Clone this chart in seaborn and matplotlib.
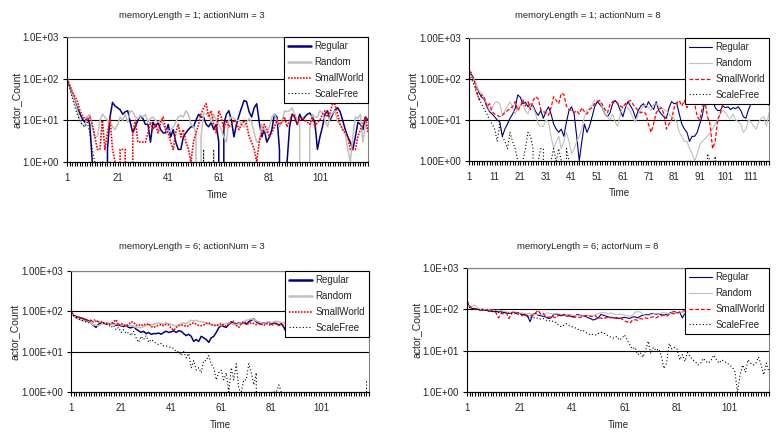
import numpy as np
import pandas as pd
import matplotlib
matplotlib.use("Agg")
import matplotlib.pyplot as plt
import seaborn as sns
from matplotlib.ticker import FixedLocator, MultipleLocator, FuncFormatter, NullLocator

networks = ["Regular", "Random", "SmallWorld", "ScaleFree"]

# memoryLength = 1; actionNum = 3
p1_regular = [100, 70, 45, 30, 20, 15, 11, 9, 12, 8,
              1, 0, 0, 0, 0, 0, 2, 12, 27, 22,
              20, 18, 14, 16, 17, 9, 5, 7, 10, 13,
              11, 8, 8, 3, 9, 7, 9, 6, 5, 5,
              8, 4, 6, 3, 2, 2, 4, 5, 6, 7,
              7, 10, 14, 12, 12, 8, 7, 9, 6, 8,
              3, 0, 8, 14, 17, 10, 4, 8, 13, 20,
              30, 28, 16, 12, 20, 25, 9, 4, 6, 3,
              4, 6, 14, 12, 2, 0, 0, 1, 7, 14,
              12, 8, 14, 10, 12, 14, 15, 12, 9, 2,
              4, 7, 14, 17, 10, 14, 18, 20, 16, 10,
              6, 4, 3, 2, 4, 9, 8, 6, 12, 10]
p1_random = [100, 75, 45, 28, 18, 10, 8, 7, 12, 14,
             7, 4, 4, 10, 14, 12, 10, 9, 7, 6,
             8, 12, 10, 14, 9, 17, 16, 12, 11, 13,
             12, 14, 9, 11, 12, 10, 9, 10, 8, 6,
             5, 6, 7, 9, 12, 13, 12, 17, 14, 8,
             7, 5, 0, 4, 15, 14, 15, 9, 14, 10,
             8, 6, 4, 3, 10, 12, 11, 10, 10, 8,
             7, 9, 11, 9, 5, 3, 3, 8, 6, 5,
             7, 12, 14, 10, 7, 9, 17, 16, 17, 20,
             14, 10, 7, 0, 0, 0, 6, 14, 12, 12,
             17, 15, 10, 7, 12, 15, 17, 9, 8, 6,
             5, 2, 1, 4, 12, 11, 14, 3, 8, 6]
p1_smallworld = [100, 70, 50, 38, 30, 18, 13, 11, 10, 12,
                 8, 4, 2, 2, 10, 2, 5, 11, 2, 1,
                 0, 2, 2, 2, 0, 0, 5, 10, 3, 3,
                 3, 3, 5, 9, 6, 8, 5, 9, 12, 6,
                 5, 3, 2, 5, 8, 4, 6, 3, 2, 1,
                 3, 5, 8, 14, 20, 25, 12, 17, 8, 5,
                 17, 12, 6, 10, 7, 8, 10, 9, 6, 8,
                 10, 8, 4, 3, 2, 1, 3, 5, 8, 6,
                 4, 5, 7, 10, 8, 9, 12, 7, 10, 14,
                 13, 8, 11, 12, 10, 9, 8, 12, 7, 9,
                 10, 14, 17, 12, 15, 25, 24, 14, 8, 6,
                 5, 4, 2, 2, 2, 4, 6, 8, 12, 5]
p1_scalefree = [100, 60, 35, 22, 14, 10, 8, 7, 9, 5,
                2, 1, 0, 0, 1, 1, 0, 1, 0, 0,
                0, 0, 0, 0, 0, 0, 0, 0, 0, 0,
                0, 0, 0, 0, 0, 0, 0, 0, 0, 0,
                0, 0, 0, 0, 0, 0, 0, 0, 0, 0,
                0, 0, 0, 0, 2, 0, 1, 0, 2, 0,
                0, 0, 0, 0, 0, 0, 0, 0, 0, 0,
                0, 0, 0, 0, 0, 0, 0, 0, 0, 0,
                0, 0, 0, 0, 0, 0, 0, 0, 0, 0,
                0, 0, 0, 0, 0, 0, 0, 0, 0, 0,
                0, 0, 0, 0, 0, 0, 0, 0, 0, 0,
                0, 0, 0, 0, 0, 0, 0, 0, 0, 0]

# memoryLength = 1; actionNum = 8
p2_regular = [140, 128, 96, 66, 45, 36, 31, 21, 16, 14,
              12, 10, 9, 4, 6, 8, 11, 14, 19, 41,
              36, 25, 27, 21, 25, 22, 16, 13, 17, 11,
              16, 21, 14, 8, 6, 5, 6, 4, 9, 17,
              21, 14, 4, 1, 3, 8, 5, 7, 12, 21,
              28, 24, 20, 14, 12, 15, 25, 30, 25, 17,
              12, 20, 28, 22, 17, 11, 17, 22, 25, 20,
              28, 22, 18, 28, 17, 14, 12, 11, 20, 28,
              25, 26, 14, 8, 6, 5, 3, 4, 4, 5,
              8, 13, 30, 25, 45, 34, 20, 17, 17, 22,
              20, 21, 18, 20, 19, 21, 17, 12, 11, 18,
              25, 35, 30, 35, 40, 30, 35, 40]
p2_random = [128, 115, 96, 66, 50, 45, 31, 25, 17, 19,
             26, 28, 25, 13, 17, 22, 28, 20, 14, 21,
             22, 24, 17, 14, 25, 20, 14, 8, 7, 7,
             10, 9, 4, 2, 3, 4, 2, 3, 5, 3,
             1.5, 2, 3, 4, 6, 12, 17, 20, 23, 31,
             30, 28, 20, 14, 12, 10, 14, 9, 7, 14,
             22, 24, 19, 16, 11, 9, 14, 17, 22, 24,
             20, 17, 24, 25, 22, 20, 18, 17, 14, 12,
             11, 9, 5, 4, 3, 3, 2, 1.5, 1, 1.5,
             2.5, 3, 3.5, 4, 5, 6, 8, 10, 14, 17,
             15, 12, 11, 14, 10, 9, 8, 5, 6, 10,
             9, 7, 6, 9, 11, 12, 7, 15]
p2_smallworld = [160, 140, 90, 50, 31, 41, 35, 21, 25, 16,
                 14, 13, 12, 13, 15, 17, 19, 21, 28, 17,
                 21, 31, 22, 28, 18, 30, 37, 33, 18, 16,
                 15, 13, 20, 37, 30, 25, 45, 42, 22, 18,
                 17, 15, 17, 14, 20, 16, 14, 18, 20, 25,
                 28, 30, 24, 18, 15, 24, 28, 30, 25, 22,
                 20, 25, 28, 30, 24, 20, 17, 15, 16, 14,
                 8, 5, 8, 15, 18, 20, 14, 6, 8, 10,
                 20, 26, 30, 22, 30, 20, 25, 30, 25, 12,
                 10, 20, 30, 12, 8, 2, 3, 10, 15, 25,
                 30, 35, 28, 40, 32, 30, 38, 28, 30, 35,
                 30, 25, 32, 28, 35, 25, 30, 22]
p2_scalefree = [130, 100, 70, 45, 32, 24, 18, 14, 10, 8,
                6, 3, 8, 4, 3, 2, 5, 3, 2, 1,
                0, 1, 2, 5, 4, 2, 0, 1, 2, 2,
                0, 0, 1, 2, 1, 2, 1, 0, 2, 1,
                0, 0, 1, 0, 0, 0, 0, 0, 0, 0,
                0, 1, 0, 0, 0, 0, 0, 0, 0, 0,
                0, 0, 0, 0, 0, 0, 0, 0, 0, 0,
                0, 0, 0, 0, 0, 0, 0, 0, 0, 0,
                0, 0, 0, 0, 0, 0, 0, 0, 0, 0,
                0, 0, 0, 1.5, 1, 0, 1.3, 0, 0, 0,
                0, 0, 0, 0, 0, 0, 0, 0, 0, 0,
                0, 0, 0, 0, 0, 0, 0, 0]

# memoryLength = 6; actionNum = 3
p3_regular = [90, 80, 75, 70, 68, 65, 62, 58, 52, 45,
              40, 48, 50, 52, 48, 50, 47, 50, 45, 46,
              44, 42, 45, 40, 39, 42, 36, 33, 30, 32,
              28, 30, 27, 28, 28, 29, 27, 30, 32, 30,
              31, 33, 30, 33, 32, 28, 25, 27, 24, 18,
              20, 18, 24, 22, 20, 17, 22, 24, 30, 39,
              45, 42, 40, 47, 55, 50, 48, 52, 50, 53,
              48, 55, 60, 65, 55, 50, 48, 52, 50, 55,
              48, 52, 50, 45, 50, 40, 30, 33, 35, 40,
              42, 45, 40, 44, 47, 45, 42, 46, 44, 48,
              45, 42, 47, 50, 45, 43, 47, 45, 50, 48,
              44, 46, 48, 45, 50, 47, 44, 46, 49, 47]
p3_random = [88, 78, 70, 65, 60, 58, 55, 55, 52, 46,
             45, 44, 48, 52, 50, 50, 48, 47, 49, 48,
             46, 45, 47, 44, 45, 42, 40, 41, 39, 42,
             44, 46, 45, 48, 50, 52, 50, 48, 51, 50,
             46, 45, 44, 46, 50, 52, 49, 55, 60, 58,
             60, 56, 55, 54, 50, 48, 47, 46, 45, 44,
             46, 48, 50, 52, 50, 48, 46, 50, 52, 55,
             60, 62, 65, 63, 58, 55, 52, 50, 53, 55,
             52, 55, 57, 55, 53, 52, 50, 52, 54, 53,
             55, 52, 50, 53, 55, 52, 50, 54, 52, 51,
             53, 55, 52, 50, 52, 54, 51, 53, 55, 52,
             50, 52, 54, 51, 53, 52, 50, 53, 51, 52]
p3_smallworld = [110, 80, 70, 72, 70, 65, 60, 58, 60, 55,
                 57, 55, 56, 50, 52, 48, 50, 55, 62, 45,
                 50, 46, 44, 47, 55, 53, 45, 47, 44, 48,
                 46, 50, 42, 40, 43, 45, 47, 44, 48, 46,
                 38, 34, 40, 44, 46, 45, 42, 44, 50, 52,
                 48, 45, 44, 46, 50, 52, 47, 45, 44, 47,
                 50, 45, 43, 48, 52, 57, 45, 40, 50, 55,
                 50, 48, 52, 50, 47, 50, 48, 45, 50, 47,
                 45, 48, 50, 46, 48, 44, 39, 42, 45, 48,
                 50, 48, 46, 50, 52, 48, 45, 50, 48, 46,
                 48, 50, 47, 45, 49, 51, 48, 46, 50, 52,
                 48, 46, 49, 51, 47, 45, 48, 50, 47, 46]
p3_scalefree = [90, 80, 70, 65, 60, 58, 55, 52, 58, 62,
                60, 55, 50, 52, 48, 45, 40, 45, 35, 40,
                30, 35, 28, 30, 25, 32, 22, 17, 24, 20,
                25, 17, 20, 18, 16, 15, 16, 14, 14, 13,
                13, 12, 10, 10, 8, 10, 7, 9, 4, 6,
                3.5, 4, 3, 6, 6, 8, 5, 4, 2, 3,
                3.5, 2, 3, 1, 4, 2, 5, 1.2, 1, 2,
                2, 5, 3, 1.5, 3, 0, 0, 0, 0, 0,
                0, 1, 1, 1.5, 1, 0, 0, 0, 0, 0,
                0, 0, 0, 0, 0, 0, 0, 0, 0, 0,
                0, 0, 0, 0, 0, 0, 0, 0, 0, 0,
                0, 0, 0, 0, 0, 0, 0, 0, 1.8, 1.8]

# memoryLength = 6; actorNum = 8
p4_regular = [150, 115, 105, 105, 100, 98, 95, 95, 92, 90,
              88, 90, 86, 88, 84, 82, 80, 82, 85, 78,
              80, 76, 74, 72, 50, 75, 80, 72, 70, 68,
              65, 60, 62, 75, 78, 72, 70, 73, 68, 70,
              66, 68, 75, 72, 70, 68, 63, 60, 55, 58,
              62, 75, 72, 68, 65, 63, 62, 63, 60, 62,
              64, 62, 60, 65, 66, 62, 68, 72, 75, 73,
              78, 80, 76, 78, 74, 72, 76, 80, 85, 88,
              82, 86, 62, 80, 86, 80, 78, 82, 85, 80,
              83, 85, 80, 78, 82, 84, 80, 83, 86, 82,
              80, 84, 86, 82, 78, 81, 85, 83, 80, 84,
              86, 82, 80, 84, 85, 82]
p4_random = [130, 115, 120, 128, 110, 100, 102, 98, 100, 96,
             95, 94, 96, 92, 90, 86, 85, 84, 88, 82,
             80, 82, 79, 78, 80, 76, 75, 74, 76, 78,
             80, 82, 79, 77, 80, 76, 75, 74, 73, 76,
             72, 70, 71, 70, 68, 72, 70, 69, 70, 74,
             80, 82, 85, 80, 78, 82, 76, 74, 76, 75,
             72, 70, 68, 72, 85, 88, 86, 75, 72, 70,
             74, 78, 80, 76, 82, 85, 80, 78, 82, 84,
             80, 83, 85, 80, 82, 84, 86, 82, 80, 85,
             84, 82, 86, 88, 84, 82, 85, 87, 84, 82,
             86, 88, 85, 83, 86, 88, 84, 86, 88, 85,
             83, 86, 88, 85, 84, 87]
p4_smallworld = [165, 120, 100, 102, 98, 95, 96, 94, 100, 98,
                 85, 84, 62, 80, 78, 82, 60, 84, 86, 82,
                 84, 70, 72, 68, 74, 70, 80, 96, 78, 80,
                 66, 64, 68, 65, 62, 75, 72, 76, 74, 70,
                 65, 64, 66, 63, 68, 70, 72, 68, 66, 70,
                 60, 62, 58, 64, 60, 65, 62, 60, 64, 58,
                 52, 50, 46, 55, 56, 54, 60, 58, 62, 60,
                 64, 66, 62, 68, 70, 72, 68, 75, 80, 78,
                 82, 85, 90, 92, 100, 98, 95, 90, 88, 92,
                 95, 90, 88, 93, 96, 92, 90, 94, 96, 92,
                 90, 95, 98, 93, 90, 92, 96, 94, 90, 92,
                 95, 92, 88, 90, 94, 90]
p4_scalefree = [130, 110, 105, 100, 100, 98, 100, 95, 90, 92,
                88, 90, 85, 86, 84, 82, 80, 78, 80, 76,
                75, 74, 72, 66, 64, 65, 60, 62, 58, 60,
                55, 52, 54, 50, 48, 40, 38, 42, 45, 40,
                38, 36, 34, 30, 32, 28, 26, 24, 25, 24,
                26, 28, 27, 25, 22, 21, 20, 22, 18, 20,
                24, 18, 14, 11, 12, 8, 9, 7, 10, 17,
                8.5, 12, 10, 11, 7.5, 3.7, 5, 15, 11, 12,
                11, 6, 8, 5.5, 9, 7, 6, 5.4, 4.5, 5,
                6.5, 5.5, 5, 6, 7.8, 6, 5, 6, 5.5, 5,
                4.5, 4, 3.1, 1, 2.6, 4.5, 3, 6, 5, 4.5,
                5, 7, 4.5, 2.6, 5, 3]

titles = ["memoryLength = 1; actionNum = 3", "memoryLength = 1; actionNum = 8",
          "memoryLength = 6; actionNum = 3", "memoryLength = 6; actorNum = 8"]
x_label_steps = [20, 10, 20, 20]
y_formats = ["{:.1E}", "{:.2E}", "{:.2E}", "{:.1E}"]

sns.set_style("white")
plt.rcParams["font.family"] = ["Liberation Sans", "DejaVu Sans"]

colors = {"Regular": "#000080", "Random": "#C0C0C0", "SmallWorld": "#FF0000", "ScaleFree": "#000000"}


def line_styles(thick):
    if thick:
        return {"Regular": dict(lw=1.1, linestyle="-"),
                "Random": dict(lw=1.1, linestyle="-"),
                "SmallWorld": dict(lw=1.2, linestyle=(0, (1, 0.8))),
                "ScaleFree": dict(lw=0.8, linestyle=(0, (1, 2)))}
    return {"Regular": dict(lw=0.8, linestyle="-"),
            "Random": dict(lw=0.8, linestyle="-"),
            "SmallWorld": dict(lw=0.9, linestyle=(0, (3, 1.6))),
            "ScaleFree": dict(lw=0.8, linestyle=(0, (1, 2)))}


def draw_panel(ax, series, title, step, yfmt, thick, title_xy, xlab_y, ylab_x):
    n = len(series[0])
    df = pd.DataFrame({name: vals for name, vals in zip(networks, series)})
    df["Time"] = np.arange(1, n + 1)
    long_df = df.melt(id_vars="Time", var_name="network", value_name="actor_Count")
    styles = line_styles(thick)
    for name in networks:
        sns.lineplot(data=long_df[long_df["network"] == name], x="Time", y="actor_Count",
                     ax=ax, color=colors[name], label=name, estimator=None, sort=False,
                     **styles[name])
    ax.set_yscale("log")
    ax.set_ylim(1, 1000)
    ax.set_xlim(1, n)
    ax.yaxis.set_major_locator(FixedLocator([1, 10, 100, 1000]))
    ax.yaxis.set_minor_locator(NullLocator())
    ax.yaxis.set_major_formatter(FuncFormatter(lambda v, p: yfmt.format(v)))
    ax.xaxis.set_major_locator(FixedLocator(list(range(1, n + 1, step))))
    ax.xaxis.set_minor_locator(MultipleLocator(1))
    ax.tick_params(which="both", bottom=True, left=True, direction="out",
                   length=3, width=0.8, color="black", labelsize=7)
    ax.tick_params(axis="x", pad=5)
    ax.tick_params(axis="y", pad=3)
    ax.grid(True, axis="y", color="black", lw=0.8)
    ax.grid(False, axis="x")
    for side in ["left", "bottom"]:
        ax.spines[side].set_color("black")
        ax.spines[side].set_linewidth(0.8)
    for side in ["top", "right"]:
        ax.spines[side].set_color("#808080")
        ax.spines[side].set_linewidth(0.8)
    ax.set_title(title, x=title_xy[0], y=title_xy[1], va="center", fontsize=6.8, pad=0)
    ax.set_xlabel("Time", fontsize=7)
    ax.set_ylabel("actor_Count", fontsize=7.5)
    ax.xaxis.set_label_coords(0.5, xlab_y)
    ax.xaxis.label.set_verticalalignment("center")
    ax.yaxis.set_label_coords(ylab_x, 0.5)
    ax.yaxis.label.set_verticalalignment("center")
    leg = ax.legend(loc="upper right", bbox_to_anchor=(1, 1), borderaxespad=0,
                    fancybox=False, framealpha=1, edgecolor="black", fontsize=7,
                    handlelength=2.4, handletextpad=0.3, labelspacing=0.6,
                    borderpad=0.45)
    leg.get_frame().set_linewidth(0.8)
    if thick:
        for handle in leg.get_lines()[:2]:
            handle.set_linewidth(1.8)


fig = plt.figure(figsize=(7.8, 4.38), dpi=100)
panels = [
    ([67, 37, 368, 162], [p1_regular, p1_random, p1_smallworld, p1_scalefree], True),
    ([469, 38, 769, 161], [p2_regular, p2_random, p2_smallworld, p2_scalefree], False),
    ([71, 271, 369, 392], [p3_regular, p3_random, p3_smallworld, p3_scalefree], True),
    ([467, 268, 769, 392], [p4_regular, p4_random, p4_smallworld, p4_scalefree], False),
]
title_centers = [(192, 15), (588, 15), (192, 247), (588, 247)]
xlabel_rows = [195, 193, 425, 425]
ylabel_cols = [17, 413, 15, 417]

for i, (box, series, thick) in enumerate(panels):
    x0, y0, x1, y1 = box
    ax = fig.add_axes([x0 / 780, 1 - y1 / 438, (x1 - x0) / 780, (y1 - y0) / 438])
    w, h = x1 - x0, y1 - y0
    tx, ty = title_centers[i]
    draw_panel(ax, series, titles[i], x_label_steps[i], y_formats[i], thick,
               ((tx - x0) / w, 1 + (y0 - ty) / h),
               (y1 - xlabel_rows[i]) / h,
               (ylabel_cols[i] - x0) / w)

fig.savefig("out.png", dpi=100)
